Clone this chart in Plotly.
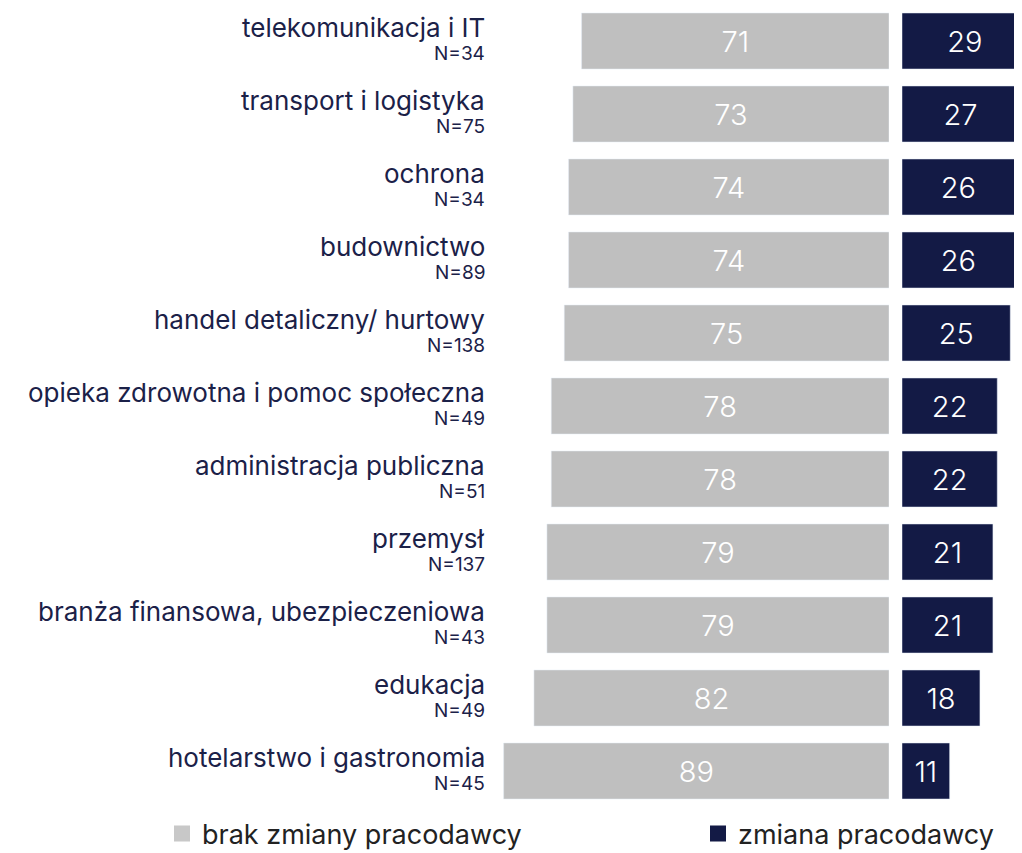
import plotly.graph_objects as go
from plotly.subplots import make_subplots

categories = ["telekomunikacja i IT", "transport i logistyka", "ochrona", "budownictwo",
              "handel detaliczny/ hurtowy", "opieka zdrowotna i pomoc społeczna",
              "administracja publiczna", "przemysł", "branża finansowa, ubezpieczeniowa",
              "edukacja", "hotelarstwo i gastronomia"]
n_labels = ["N=34", "N=75", "N=34", "N=89", "N=138", "N=49", "N=51", "N=137", "N=43", "N=49", "N=45"]
brak_zmiany = [71, 73, 74, 74, 75, 78, 78, 79, 79, 82, 89]
zmiana = [29, 27, 26, 26, 25, 22, 22, 21, 21, 18, 11]

GRAY = "#bfbfbf"
NAVY = "#131a45"
TXT = "#1b2148"
FONT = "Inter"
OFF = 8  # page body margin
W, H = 1022 - OFF, 853 - OFF

fig = make_subplots(rows=1, cols=2, shared_yaxes=True, horizontal_spacing=0)

val_font = dict(color="white", size=29, family=FONT, weight=300)
fig.add_trace(go.Bar(y=categories, x=brak_zmiany, orientation="h", marker_color=GRAY,
                     name="brak zmiany pracodawcy", text=brak_zmiany, textposition="inside",
                     insidetextanchor="middle", textangle=0, showlegend=False,
                     textfont=val_font), row=1, col=1)
fig.add_trace(go.Bar(y=categories, x=zmiana, orientation="h", marker_color=NAVY,
                     name="zmiana pracodawcy", text=zmiana, textposition="inside",
                     insidetextanchor="middle", textangle=0, showlegend=False,
                     textfont=val_font), row=1, col=2)

# legend-only entries
fig.add_trace(go.Scatter(x=[None], y=[None], mode="markers", name="brak zmiany pracodawcy",
                         marker=dict(symbol="square", size=16, color="#c8c8c8"),
                         legend="legend"), row=1, col=1)
fig.add_trace(go.Scatter(x=[None], y=[None], mode="markers", name="zmiana pracodawcy",
                         marker=dict(symbol="square", size=16, color=NAVY),
                         legend="legend2"), row=1, col=2)

scale = 4.33
left_px = 480 - OFF
gray_r = 889 - OFF
navy_l = 902 - OFF
fig.update_xaxes(domain=[left_px / W, gray_r / W], range=[(gray_r - left_px) / scale, 0],
                 visible=False, row=1, col=1)
fig.update_xaxes(domain=[navy_l / W, 1], range=[0, (W - navy_l) / scale], visible=False, row=1, col=2)

top_m, bot_m = 0, 40
plot_h = H - top_m - bot_m
first_c = 41 - OFF
step = 73.0
y_top = -first_c / step
y_bot = (plot_h - first_c) / step
fig.update_yaxes(categoryorder="array", categoryarray=categories, range=[y_bot, y_top],
                 showticklabels=False, showgrid=False, zeroline=False)

lab_x = (487 - OFF) / W
for c, n in zip(categories, n_labels):
    fig.add_annotation(xref="paper", yref="y", x=lab_x, y=c, yshift=14, text=c,
                       showarrow=False, xanchor="right", yanchor="middle",
                       font=dict(size=26, color=TXT, family=FONT))
    fig.add_annotation(xref="paper", yref="y", x=lab_x, y=c, yshift=-12, text=n,
                       showarrow=False, xanchor="right", yanchor="middle",
                       font=dict(size=19, color=TXT, family=FONT))

leg_y = 1 - ((834 - OFF) - top_m) / plot_h
leg_font = dict(size=27, color="#222222", family=FONT)
fig.update_layout(
    width=W, height=H, margin=dict(l=0, r=0, t=top_m, b=bot_m, autoexpand=False),
    plot_bgcolor="white", paper_bgcolor="white", bargap=0.233,
    showlegend=True,
    legend=dict(orientation="h", x=(162 - OFF) / W, y=leg_y, yanchor="middle", xanchor="left",
                font=leg_font, itemwidth=30, bgcolor="rgba(0,0,0,0)"),
    legend2=dict(orientation="h", x=(698 - OFF) / W, y=leg_y, yanchor="middle", xanchor="left",
                 font=leg_font, itemwidth=30, bgcolor="rgba(0,0,0,0)"),
    uniformtext=dict(minsize=8, mode="show"),
)

fig.write_html("out.html")
